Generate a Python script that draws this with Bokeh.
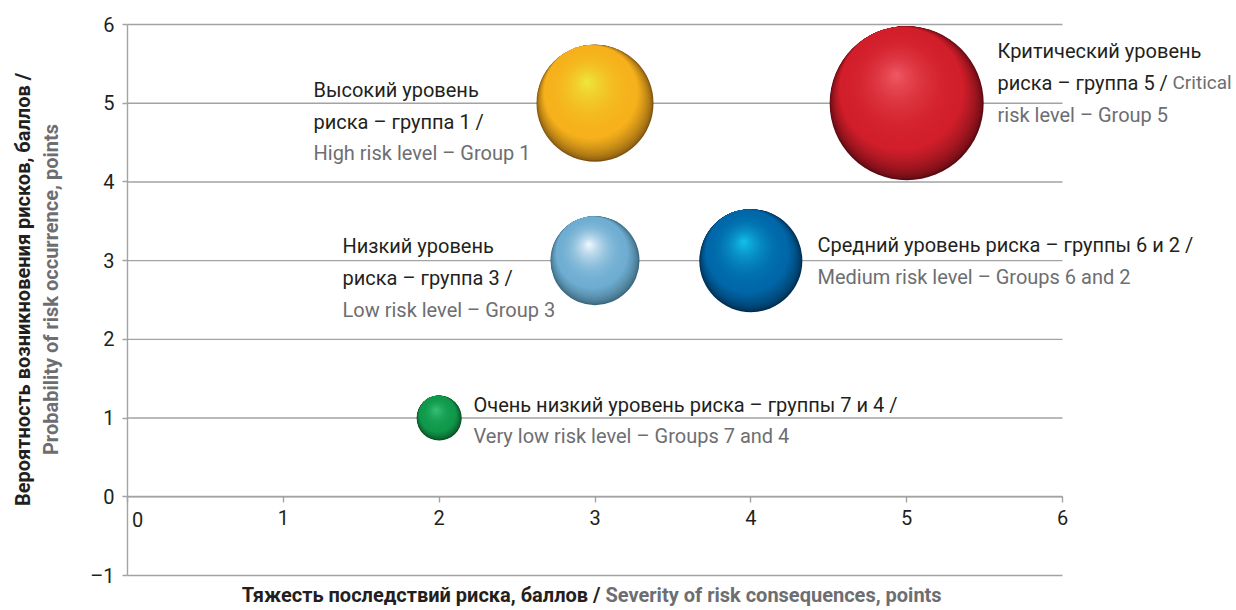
import numpy as np
from bokeh.plotting import figure
from bokeh.models import Label, Range1d, FixedTicker
from bokeh.embed import file_html
from bokeh.resources import INLINE

# ---------------- data ----------------
groups = ["Высокий – 1", "Критический – 5", "Низкий – 3", "Средний – 6, 2", "Очень низкий – 7, 4"]
severity = [3, 5, 3, 4, 2]                 # x: severity of consequences, points
probability = [5, 5, 3, 3, 1]              # y: probability of occurrence, points
bubble_diameter = [117, 154, 89, 103, 45]  # bubble size (px)
base_colors = ["#F6B11C", "#D21F2B", "#6FAED2", "#0068A9", "#11994B"]
light_colors = ["#EDE93E", "#EF5B65", "#F6FBFF", "#14C4EC", "#3AC27C"]
dark_colors = ["#7C5210", "#5C0A12", "#3A6478", "#002C4E", "#0A4822"]
x_ticks = [0, 1, 2, 3, 4, 5, 6]
y_ticks = [-1, 0, 1, 2, 3, 4, 5, 6]

FONT = "Roboto"
BLACK = "#231f20"
GREY = "#6d6e71"
GRID = "#a3a3a3"

# ---------------- layout ----------------
W, H = 1232, 606
AX_L, AX_T = 127, 24          # picture px of data (0, 6)
FW, FH = 935, 551             # px spanned by x 0..6 and y -1..6
XMIN, XMAX, YMIN, YMAX = min(x_ticks), max(x_ticks), min(y_ticks), max(y_ticks)
PX = FW / (XMAX - XMIN)
PY = FH / (YMAX - YMIN)


def dx(px):  # picture pixel -> data x (layout helper for annotations)
    return XMIN + (px - AX_L) / PX


def dy(py):  # picture pixel -> data y
    return YMAX - (py - AX_T) / PY


p = figure(width=W, height=H, output_backend="svg", toolbar_location=None,
           x_range=Range1d(dx(0), dx(W)), y_range=Range1d(dy(H), dy(0)),
           min_border_left=0, min_border_right=0, min_border_top=0,
           min_border_bottom=0)
p.outline_line_color = None
p.background_fill_color = "white"
p.border_fill_color = "white"
p.xgrid.visible = False
p.ygrid.visible = False

# horizontal grid lines (0..6 only)
p.segment(x0=[XMIN] * len(y_ticks), x1=[XMAX] * len(y_ticks), y0=y_ticks, y1=y_ticks,
          line_color=GRID, line_width=1.4)

# y axis at x = 0
p.yaxis.fixed_location = XMIN
p.yaxis.bounds = (YMIN, YMAX)
p.yaxis.ticker = FixedTicker(ticks=y_ticks)
p.yaxis.major_label_overrides = {-1: "–1"}
p.yaxis.axis_line_color = GRID
p.yaxis.axis_line_width = 1.4
p.yaxis.major_tick_line_color = GRID
p.yaxis.major_tick_line_width = 1.4
p.yaxis.major_tick_out = 5
p.yaxis.major_tick_in = 0
p.yaxis.minor_tick_line_color = None
p.yaxis.major_label_text_font = FONT
p.yaxis.major_label_text_font_size = "20px"
p.yaxis.major_label_text_color = BLACK
p.yaxis.major_label_standoff = 8

# x axis at y = 0
p.xaxis.fixed_location = 0
p.xaxis.bounds = (XMIN, XMAX)
p.xaxis.ticker = FixedTicker(ticks=x_ticks)
p.xaxis.major_label_overrides = {0: ""}
p.xaxis.axis_line_color = GRID
p.xaxis.axis_line_width = 1.4
p.xaxis.major_tick_line_color = GRID
p.xaxis.major_tick_line_width = 1.4
p.xaxis.major_tick_out = 6
p.xaxis.major_tick_in = 0
p.xaxis.minor_tick_line_color = None
p.xaxis.major_label_text_font = FONT
p.xaxis.major_label_text_font_size = "20px"
p.xaxis.major_label_text_color = BLACK
p.xaxis.major_label_standoff = 7


# ---------------- spheres (layered shading) ----------------
def hex2rgb(h):
    h = h.lstrip("#")
    return np.array([int(h[i:i + 2], 16) for i in (0, 2, 4)], dtype=float)


def rgb2hex(c):
    c = np.clip(np.round(c), 0, 255).astype(int)
    return "#%02x%02x%02x" % tuple(c)


N1, N2 = 16, 40
xs, ys, sizes, cols = [], [], [], []
for x0, y0, d, cb, cl, cd in zip(severity, probability, bubble_diameter,
                                 base_colors, light_colors, dark_colors):
    r = d / 2.0
    hvec = np.array([-0.14, 0.37]) * r       # highlight offset, px (up +)
    u = hvec / np.linalg.norm(hvec)
    b, l, k = hex2rgb(cb), hex2rgb(cl), hex2rgb(cd)
    shade = 0.2 * r
    # phase 1: dark crescent at bottom-right (internally tangent circles)
    for i in range(N1):
        s = i / N1
        off = u * shade * s
        xs.append(x0 + off[0] / PX)
        ys.append(y0 + off[1] / PY)
        sizes.append(2 * (r - shade * s))
        cols.append(rgb2hex(k + (b - k) * s ** 0.6))
    # phase 2: base -> highlight
    c1 = u * shade
    r1 = r - shade
    for i in range(N2):
        t = i / N2
        off = c1 + (hvec - c1) * t
        xs.append(x0 + off[0] / PX)
        ys.append(y0 + off[1] / PY)
        sizes.append(2 * r1 * (1 - t))
        cols.append(rgb2hex(b + (l - b) * t ** 2.0))

p.scatter(xs, ys, size=sizes, fill_color=cols, line_color=None, marker="circle")


# ---------------- annotations ----------------
def lab(text, px, py, color=BLACK, size="20px", style="normal", align="left",
        angle=0.0, baseline="middle"):
    p.add_layout(Label(x=dx(px), y=dy(py), text=text, text_color=color,
                       text_font=FONT, text_font_size=size,
                       text_font_style=style, text_align=align,
                       text_baseline=baseline, angle=angle))


# x tick "0" shifted right of the y axis
lab("0", 137, 519, align="center", size="20px")

# bubble labels
lab("Высокий уровень", 313, 89)
lab("риска – группа 1 /", 313, 121)
lab("High risk level – Group 1", 313, 152, GREY)

lab("Критический уровень", 997, 50)
lab("риска – группа 5 /", 997, 82)
lab("Critical", 1172, 82, GREY, "19px")
lab("risk level – Group 5", 997, 114, GREY)

lab("Низкий уровень", 342, 245)
lab("риска – группа 3 /", 342, 277)
lab("Low risk level – Group 3", 342, 309, GREY)

lab("Средний уровень риска – группы 6 и 2 /", 817, 244)
lab("Medium risk level – Groups 6 and 2", 817, 276, GREY)

lab("Очень низкий уровень риска – группы 7 и 4 /", 473, 404)
lab("Very low risk level – Groups 7 and 4", 473, 435, GREY)

# axis titles
lab("Вероятность возникновения рисков, баллов /", 22, 289, BLACK, "20px",
    "bold", "center", np.pi / 2)
lab("Probability of risk occurrence, points", 50, 289, GREY, "20px",
    "bold", "center", np.pi / 2)
lab("Тяжесть последствий риска, баллов /", 600, 594, BLACK, "20px", "bold", "right")
lab("Severity of risk consequences, points", 605, 594, GREY, "20px", "bold", "left")

open("out.html", "w").write(file_html(p, INLINE))
